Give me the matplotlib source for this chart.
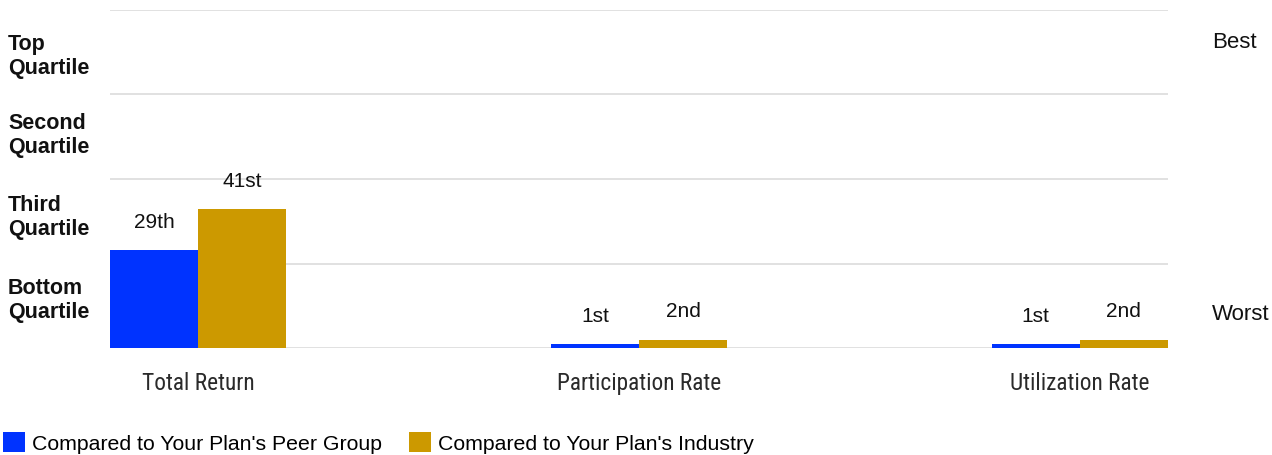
import matplotlib
matplotlib.use("Agg")
import matplotlib.pyplot as plt
from matplotlib.patches import Patch
from matplotlib import font_manager
import numpy as np

categories = ["Total Return", "Participation Rate", "Utilization Rate"]
peer_values = [29, 1.2, 1.2]
industry_values = [41, 2.5, 2.5]
peer_labels = ["29th", "1st", "1st"]
industry_labels = ["41st", "2nd", "2nd"]
quartile_labels = ["Top\nQuartile", "Second\nQuartile", "Third\nQuartile", "Bottom\nQuartile"]
series_names = ["Compared to Your Plan's Peer Group", "Compared to Your Plan's Industry"]

peer_color = "#0033FF"
industry_color = "#CC9900"

names = {f.name for f in font_manager.fontManager.ttflist}
cond = [n for n in ["Roboto Condensed", "Liberation Sans Narrow", "Arial Narrow"] if n in names] + ["Liberation Sans", "DejaVu Sans"]
base = ["Liberation Sans", "DejaVu Sans"]

W, H = 1272, 455
fig = plt.figure(figsize=(W / 100, H / 100), dpi=100)
ax = fig.add_axes([110 / W, (H - 348) / H, (1168 - 110) / W, 338 / H])

x = np.arange(len(categories))
bw = 0.2
ax.bar(x - bw / 2, peer_values, width=bw, color=peer_color, zorder=3)
ax.bar(x + bw / 2, industry_values, width=bw, color=industry_color, zorder=3)

ax.set_xlim(-0.2, 2.2)
ax.set_ylim(0, 100)
for yv in [0, 25, 50, 75, 100]:
    ax.axhline(yv, color="#dcdcdc", lw=1.2, zorder=1)
for s in ax.spines.values():
    s.set_visible(False)
ax.set_yticks([])
ax.set_xticks(x)
ax.set_xticklabels(categories, fontfamily=cond, fontsize=16.8, fontweight="normal", color="#2a2a2a")
ax.tick_params(axis="x", length=0, pad=17)

for xi, v, lab in zip(x - bw / 2, peer_values, peer_labels):
    ax.annotate(lab, (xi, v), xytext=(0, 20), textcoords="offset points",
                ha="center", va="center", fontsize=15, fontfamily=base, color="#111111")
for xi, v, lab in zip(x + bw / 2, industry_values, industry_labels):
    ax.annotate(lab, (xi, v), xytext=(0, 20), textcoords="offset points",
                ha="center", va="center", fontsize=15, fontfamily=base, color="#111111")

trans = matplotlib.transforms.blended_transform_factory(fig.transFigure, ax.transData)
for lab, yv in zip(quartile_labels, [86.3, 62.8, 38.7, 14.0]):
    fig.text(8 / W, yv, lab, transform=trans, ha="left", va="center",
             fontsize=15.5, fontweight="bold", fontfamily=base, linespacing=1.2, color="#111111")

fig.text(1212 / W, 90.5, "Best", transform=trans, ha="left", va="center",
         fontsize=16, fontfamily=base, color="#111111")
fig.text(1212 / W, 10, "Worst", transform=trans, ha="left", va="center",
         fontsize=16, fontfamily=base, color="#111111")

handles = [Patch(facecolor=peer_color, edgecolor="none"), Patch(facecolor=industry_color, edgecolor="none")]
fig.legend(handles, series_names, loc="center left", bbox_to_anchor=(3 / W, (H - 443) / H),
           ncol=2, frameon=False, borderpad=0, borderaxespad=0,
           handlelength=1.05, handleheight=1.05, handletextpad=0.33, columnspacing=1.25,
           prop={"family": base, "size": 15.3})

fig.savefig("out.png", dpi=100)
